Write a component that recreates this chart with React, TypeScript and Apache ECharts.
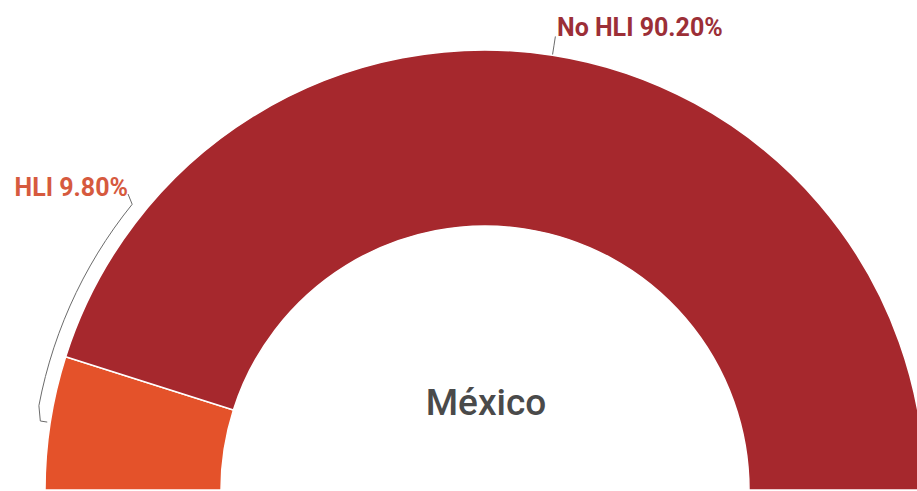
import React, { useEffect, useRef } from "react";
import * as echarts from "echarts";

const categories = ["HLI", "No HLI"];
const values = [9.8, 90.2];
const sliceColors = ["#e4522a", "#a6282d"];
const labelColors = ["#d65a3e", "#9c2f37"];
const centerText = "México";

// layout constants (px)
const W = 917;
const H = 491;
const CX = 485;
const CY = 490;
const R_IN = 264;
const R_OUT = 440;
const START = 180;
const END = 0;

const deg = Math.PI / 180;
const polar = (r: number, a: number): number[] => [CX + r * Math.cos(a * deg), CY - r * Math.sin(a * deg)];

function midAngles(): number[] {
  const total = values.reduce((s, v) => s + v, 0);
  const out: number[] = [];
  let cum = 0;
  for (const v of values) {
    out.push(START - ((cum + v / 2) / total) * (START - END));
    cum += v;
  }
  return out;
}

export default function App() {
  const ref = useRef<HTMLDivElement>(null);
  useEffect(() => {
    if (!ref.current) return;
    const chart = echarts.init(ref.current, undefined, { renderer: "svg" });
    const total = values.reduce((s, v) => s + v, 0);
    const mids = midAngles();

    const layoutFor = (i: number) => {
      const m = mids[i];
      if (i === 0) {
        const pts: number[][] = [polar(443, m), polar(450, m)];
        const endA = 141;
        const steps = 16;
        for (let k = 1; k <= steps; k++) {
          const a = m + ((endA - m) * k) / steps;
          pts.push(polar(454, a));
        }
        pts.push([128, 194]);
        return { x: 128, y: 187, align: "right", verticalAlign: "middle", labelLinePoints: pts };
      }
      const p1 = polar(R_OUT, m);
      const p2 = polar(459, m);
      return {
        x: 557,
        y: 27,
        align: "left",
        verticalAlign: "middle",
        labelLinePoints: [p1, [(p1[0] + p2[0]) / 2, (p1[1] + p2[1]) / 2], p2],
      };
    };

    chart.setOption({
      animation: false,
      series: [
        {
          type: "pie",
          center: [CX, CY],
          radius: [R_IN, R_OUT],
          startAngle: START,
          endAngle: END,
          clockwise: true,
          avoidLabelOverlap: false,
          itemStyle: { borderColor: "#ffffff", borderWidth: 1.5 },
          label: {
            show: true,
            position: "outside",
            fontFamily: "Roboto",
            fontSize: 25,
            fontWeight: "bold",
            width: 220,
            overflow: "none",
            formatter: (p: any) => `${p.name} ${((p.value / total) * 100).toFixed(2)}%`,
          },
          labelLine: {
            show: true,
            length: 15,
            length2: 10,
            lineStyle: { color: "#6b6b6b", width: 1 },
          },
          labelLayout: (params: any) => layoutFor(params.dataIndex),
          data: categories.map((c, i) => ({
            name: c,
            value: values[i],
            itemStyle: { color: sliceColors[i] },
            label: { color: labelColors[i] },
          })),
        },
      ],
      graphic: [
        {
          type: "text",
          x: CX + 1,
          y: 402,
          style: {
            text: centerText,
            fontFamily: "Roboto",
            fontSize: 37,
            fontWeight: 500,
            fill: "#4a4a4a",
            align: "center",
            verticalAlign: "middle",
          },
        },
      ],
    });
    return () => chart.dispose();
  }, []);
  return (
    <div
      ref={ref}
      style={{ position: "absolute", left: 0, top: 0, width: W, height: H, background: "#ffffff" }}
    />
  );
}
